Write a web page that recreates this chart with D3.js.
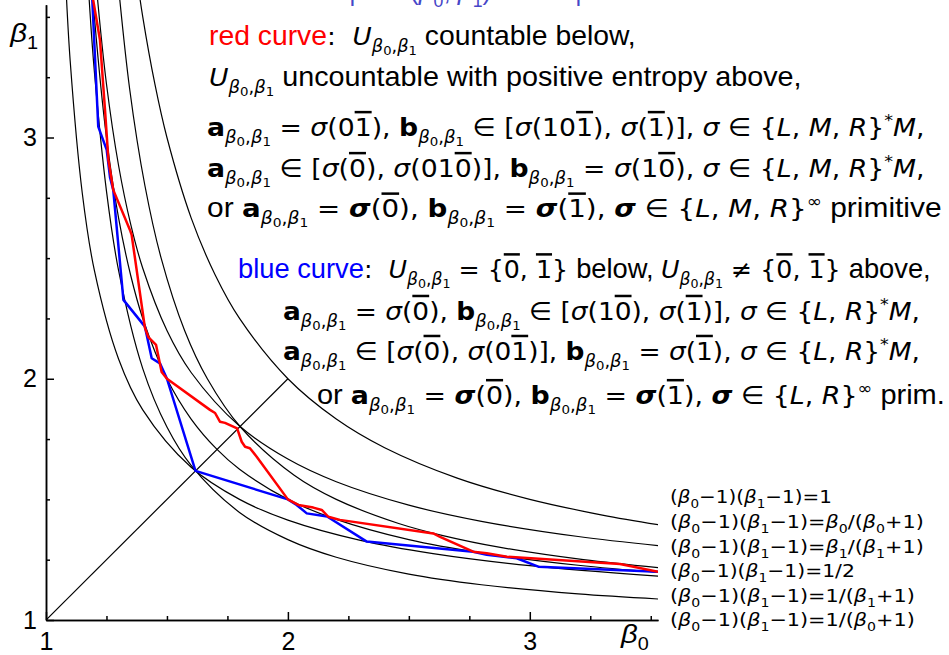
<!DOCTYPE html>
<html>
<head>
<meta charset="utf-8">
<script src="https://cdn.jsdelivr.net/npm/d3@7"></script>
<style>
  body { margin: 0; background: #fff; }
  svg { display: block; }
  text { white-space: pre; }
</style>
</head>
<body>
<svg id="chart" width="949" height="655"></svg>
<script>
// ---- tick values ----
const xMajor = [1, 2, 3];
const xMinor = [1.25, 1.5, 1.75, 2.25, 2.5, 2.75, 3.25, 3.5];
const yMajor = [1, 2, 3];
const yMinor = [1.25, 1.5, 1.75, 2.25, 2.5, 2.75, 3.25, 3.5];

// ---- black reference curves, [beta0, beta1] ----
const curveOne = [[1.357,3.801],[1.4,3.5],[1.45,3.222],[1.5,3.0],[1.6,2.667],[1.7,2.429],[1.8,2.25],
  [2.0,2.0],[2.2,1.833],[2.4,1.714],[2.7,1.588],[3.0,1.5],[3.3,1.435],[3.55,1.392]];
const curveB0 = [[1.195,3.792],[1.21,3.607],[1.25,3.222],[1.3,2.884],[1.35,2.641],[1.4,2.458],[1.5,2.2],
  [1.6,2.026],[1.8,1.804],[2.0,1.667],[2.2,1.573],[2.5,1.476],[2.8,1.409],[3.2,1.346],[3.55,1.306]];
const curveB1 = [[1.283,3.8],[1.346,3.2],[1.409,2.8],[1.476,2.5],[1.573,2.2],[1.667,2.0],[1.804,1.8],
  [2.026,1.6],[2.2,1.5],[2.458,1.4],[2.641,1.35],[2.884,1.3],[3.222,1.25],[3.551,1.215]];
const curveHalf = [[1.18,3.778],[1.2,3.5],[1.25,3.0],[1.3,2.667],[1.35,2.429],[1.4,2.25],[1.5,2.0],
  [1.6,1.833],[1.707,1.707],[1.8,1.625],[2.0,1.5],[2.2,1.417],[2.5,1.333],[2.8,1.278],[3.2,1.227],[3.55,1.196]];
const curveInvB1 = [[1.075,3.786],[1.08,3.674],[1.1,3.317],[1.15,2.769],[1.2,2.449],[1.3,2.082],[1.4,1.871],
  [1.6,1.633],[1.8,1.5],[2.0,1.414],[2.3,1.33],[2.6,1.275],[3.0,1.225],[3.55,1.18]];
const curveInvB0 = [[1.165,3.799],[1.18,3.548],[1.2,3.273],[1.25,2.778],[1.3,2.449],[1.4,2.042],[1.5,1.8],
  [1.6,1.641],[1.8,1.446],[2.0,1.333],[2.2,1.26],[2.5,1.19],[2.8,1.146],[3.2,1.108],[3.55,1.086]];
const blackCurves = [curveOne, curveB0, curveB1, curveHalf, curveInvB1, curveInvB0];

// ---- red and blue boundaries ----
const redCurve = [[1.19,3.6],[1.223,3.405],[1.244,3.114],[1.258,2.907],[1.278,2.783],[1.347,2.617],
  [1.354,2.597],[1.409,2.211],[1.423,2.173],[1.455,2.14],[1.478,2.028],[1.5,2.0],[1.678,1.871],
  [1.699,1.858],[1.719,1.822],[1.74,1.817],[1.79,1.794],[1.809,1.739],[1.823,1.718],[1.843,1.712],
  [1.871,1.677],[2.0,1.5],[2.043,1.477],[2.105,1.466],[2.14,1.456],[2.167,1.428],[2.215,1.415],
  [2.601,1.359],[2.629,1.345],[2.766,1.283],[2.822,1.277],[2.905,1.262],[3.373,1.232],[3.53,1.2]];
const blueCurve = [[1.19,3.6],[1.216,3.045],[1.251,2.949],[1.265,2.833],[1.278,2.783],[1.32,2.327],
  [1.409,2.216],[1.437,2.085],[1.471,2.064],[1.5,2.0],[1.618,1.618],[2.0,1.5],[2.036,1.477],
  [2.078,1.442],[2.162,1.429],[2.326,1.325],[2.766,1.283],[2.822,1.27],[2.946,1.256],[3.035,1.221],[3.53,1.2]];

// ---- text ----
// flags: w = plain words, i = italic, b = bold, o = overbar, sub / sub2 / sup = level
const T = (t, s = "") => ({ t, s });
const W = (t, s = "") => ({ t, s: "w " + s });
const idx = () => [T("β", "sub i"), T("0", "sub2"), T(",", "sub"), T("β", "sub i"), T("1", "sub2")];
const U = () => [T("U", "i"), ...idx()];
const A = () => [T("a", "b"), ...idx()];
const B = () => [T("b", "b"), ...idx()];
const sg = (s = "") => T("σ", "i " + s);
const LMR = [T("L", "i"), T(", "), T("M", "i"), T(", "), T("R", "i")];
const LR = [T("L", "i"), T(", "), T("R", "i")];

const textLines = [
  [W("red curve", "red"), T(":  "), ...U(), W(" countable below,")],
  [...U(), W(" uncountable with positive entropy above,")],
  [...A(), T(" = "), sg(), T("(0"), T("1", "o"), T("), "), ...B(), T(" ∈ ["), sg(), T("(10"), T("1", "o"), T("), "),
    sg(), T("("), T("1", "o"), T(")], "), sg(), T(" ∈ {"), ...LMR, T("}"), T("*", "sup"), T("M", "i"), T(",")],
  [...A(), T(" ∈ ["), sg(), T("("), T("0", "o"), T("), "), sg(), T("(01"), T("0", "o"), T(")], "), ...B(), T(" = "),
    sg(), T("(1"), T("0", "o"), T("), "), sg(), T(" ∈ {"), ...LMR, T("}"), T("*", "sup"), T("M", "i"), T(",")],
  [W("or "), ...A(), T(" = "), sg("b"), T("("), T("0", "o"), T("), "), ...B(), T(" = "), sg("b"), T("("), T("1", "o"),
    T("), "), sg("b"), T(" ∈ {"), ...LMR, T("}"), T("∞", "sup"), W(" primitive")],
  [W("blue curve", "blue"), T(":  "), ...U(), T(" = {"), T("0", "o"), T(", "), T("1", "o"), T("} "), W("below, "), ...U(),
    T(" ≠ {"), T("0", "o"), T(", "), T("1", "o"), T("} "), W("above,")],
  [...A(), T(" = "), sg(), T("("), T("0", "o"), T("), "), ...B(), T(" ∈ ["), sg(), T("(1"), T("0", "o"), T("), "),
    sg(), T("("), T("1", "o"), T(")], "), sg(), T(" ∈ {"), ...LR, T("}"), T("*", "sup"), T("M", "i"), T(",")],
  [...A(), T(" ∈ ["), sg(), T("("), T("0", "o"), T("), "), sg(), T("(0"), T("1", "o"), T(")], "), ...B(), T(" = "),
    sg(), T("("), T("1", "o"), T("), "), sg(), T(" ∈ {"), ...LR, T("}"), T("*", "sup"), T("M", "i"), T(",")],
  [W("or "), ...A(), T(" = "), sg("b"), T("("), T("0", "o"), T("), "), ...B(), T(" = "), sg("b"), T("("), T("1", "o"),
    T("), "), sg("b"), T(" ∈ {"), ...LR, T("}"), T("∞", "sup"), W(" prim.")]
];
// left, baseline, right of each text line
const lineBox = [[209, 45, 636], [209, 86, 802], [207, 136, 925], [207, 177, 925], [207, 217, 942],
  [238, 278, 931], [283, 320, 920], [283, 360, 920], [317, 404, 945]];

const lab = rhs => [T("("), T("β", "i"), T("0", "sub"), T("−1)("), T("β", "i"), T("1", "sub"), T("−1)="), ...rhs];
const curveLabels = [
  lab([T("1")]),
  lab([T("β", "i"), T("0", "sub"), T("/("), T("β", "i"), T("0", "sub"), T("+1)")]),
  lab([T("β", "i"), T("1", "sub"), T("/("), T("β", "i"), T("1", "sub"), T("+1)")]),
  lab([T("1/2")]),
  lab([T("1/("), T("β", "i"), T("1", "sub"), T("+1)")]),
  lab([T("1/("), T("β", "i"), T("0", "sub"), T("+1)")])
];
const labelBase = [503, 528, 553, 577, 602, 626];
const labRight = [832, 924, 924, 855, 915, 915];

// ---- drawing ----
const svg = d3.select("#chart");
const x = d3.scaleLinear().domain([1, 3.53]).range([46, 658]);
const y = d3.scaleLinear().domain([1, 3.57]).range([620, 0]);

const sizeOf = { 0: 1, sub: 0.68, sub2: 0.5, sup: 0.66 };
const offOf = { 0: 0, sub: 0.26, sub2: 0.4, sup: -0.42 };
const fam = "'Liberation Sans', Arial, sans-serif";
const mathFam = "'DejaVu Sans', sans-serif";
const wordFam = "'Liberation Sans', Arial, sans-serif";

function drawTokens(g, tokens, fs, family, wordSize) {
  const text = g.append("text").attr("font-size", fs).attr("font-family", family);
  let cur = 0;
  tokens.forEach(tok => {
    const f = tok.s.split(" ");
    const lv = f.includes("sub2") ? "sub2" : f.includes("sub") ? "sub" : f.includes("sup") ? "sup" : 0;
    const off = offOf[lv] * fs;
    const ts = text.append("tspan").text(tok.t)
      .attr("dy", off - cur)
      .attr("font-size", fs * sizeOf[lv]);
    cur = off;
    if (f.includes("w")) ts.attr("font-family", wordFam).attr("font-size", wordSize || fs);
    if (f.includes("i")) ts.attr("font-style", "italic");
    if (f.includes("b")) ts.attr("font-weight", "bold");
    if (f.includes("o")) ts.style("text-decoration", "overline");
    if (f.includes("red")) ts.attr("fill", "#ff0000");
    if (f.includes("blue")) ts.attr("fill", "#0000ff");
  });
  return text;
}

function fitLine(tokens, x0, base, x1, fs, family, wordSize) {
  const g = svg.append("g");
  const t = drawTokens(g, tokens, fs, family, wordSize);
  const bb = t.node().getBBox();
  const k = (x1 - x0) / bb.width;
  g.attr("transform", `translate(${x0 - bb.x * k},${base}) scale(${k},1)`);
  return k;
}

// clip for plot marks
svg.append("clipPath").attr("id", "plotclip").append("rect")
  .attr("x", x(1)).attr("y", 0).attr("width", x(3.53) - x(1)).attr("height", y(1));

const plot = svg.append("g").attr("clip-path", "url(#plotclip)");
const smooth = d3.line().x(d => x(d[0])).y(d => y(d[1])).curve(d3.curveCatmullRom);
const straight = d3.line().x(d => x(d[0])).y(d => y(d[1]));

plot.selectAll("path.hyp").data(blackCurves).enter().append("path")
  .attr("class", "hyp").attr("d", smooth)
  .attr("fill", "none").attr("stroke", "#000").attr("stroke-width", 1.2);

plot.append("path").attr("d", straight([[1, 1], [2, 2]]))
  .attr("fill", "none").attr("stroke", "#000").attr("stroke-width", 1.2);

plot.append("path").attr("d", straight(blueCurve))
  .attr("fill", "none").attr("stroke", "#0000ff").attr("stroke-width", 2.5).attr("stroke-linejoin", "round");
plot.append("path").attr("d", straight(redCurve))
  .attr("fill", "none").attr("stroke", "#ff0000").attr("stroke-width", 2.5).attr("stroke-linejoin", "round");

// axes
function styleAxis(g) {
  g.attr("font-family", fam).attr("font-size", 25);
  g.selectAll("path, line").attr("stroke", "#000").attr("stroke-width", 1.5);
  g.selectAll("text").attr("fill", "#000");
}
svg.append("g").attr("transform", `translate(0,${y(1)})`)
  .call(d3.axisBottom(x).tickValues(xMinor).tickSize(-4).tickSizeOuter(0).tickFormat(""))
  .call(styleAxis);
svg.append("g").attr("transform", `translate(0,${y(1)})`)
  .call(d3.axisBottom(x).tickValues(xMajor).tickSize(-8).tickSizeOuter(0).tickPadding(12).tickFormat(d3.format("d")))
  .call(styleAxis);

const yAx = y.copy().domain([1, 3.55]).range([y(1), y(3.55)]);
svg.append("g").attr("transform", `translate(${x(1)},0)`)
  .call(d3.axisLeft(yAx).tickValues(yMinor).tickSize(-4).tickSizeOuter(0).tickFormat(""))
  .call(styleAxis);
svg.append("g").attr("transform", `translate(${x(1)},0)`)
  .call(d3.axisLeft(yAx).tickValues(yMajor).tickSize(-8).tickSizeOuter(0).tickPadding(9).tickFormat(d3.format("d")))
  .call(styleAxis);

// axis titles
fitLine([T("β", "i"), T("1", "sub")], 9, 42, 38, 26, fam);
fitLine([T("β", "i"), T("0", "sub")], 620, 643, 649, 26, fam);

// text block: math in DejaVu, words in Liberation
textLines.forEach((ln, i) => {
  const [x0, b, x1] = lineBox[i];
  fitLine(ln, x0, b, x1, 25, mathFam, 27);
});

// curve labels
curveLabels.forEach((ln, i) => fitLine(ln, 670, labelBase[i], labRight[i], 18, mathFam));

// title, cut off at the top of the picture
const titleFill = "#4646c8";
svg.append("text").attr("x", 349).attr("y", 1).attr("font-size", 26).attr("font-family", fam)
  .attr("fill", titleFill).text("|");
svg.append("text").attr("x", 575).attr("y", 1).attr("font-size", 26).attr("font-family", fam)
  .attr("fill", titleFill).text("|");
const tg = svg.append("g").attr("fill", titleFill);
drawTokens(tg, [T("("), T("β", "i"), T("0", "sub"), T(", "), T("β", "i"), T("1", "sub"), T(")")], 26, fam);
tg.attr("transform", "translate(410,0)");
</script>
</body>
</html>
